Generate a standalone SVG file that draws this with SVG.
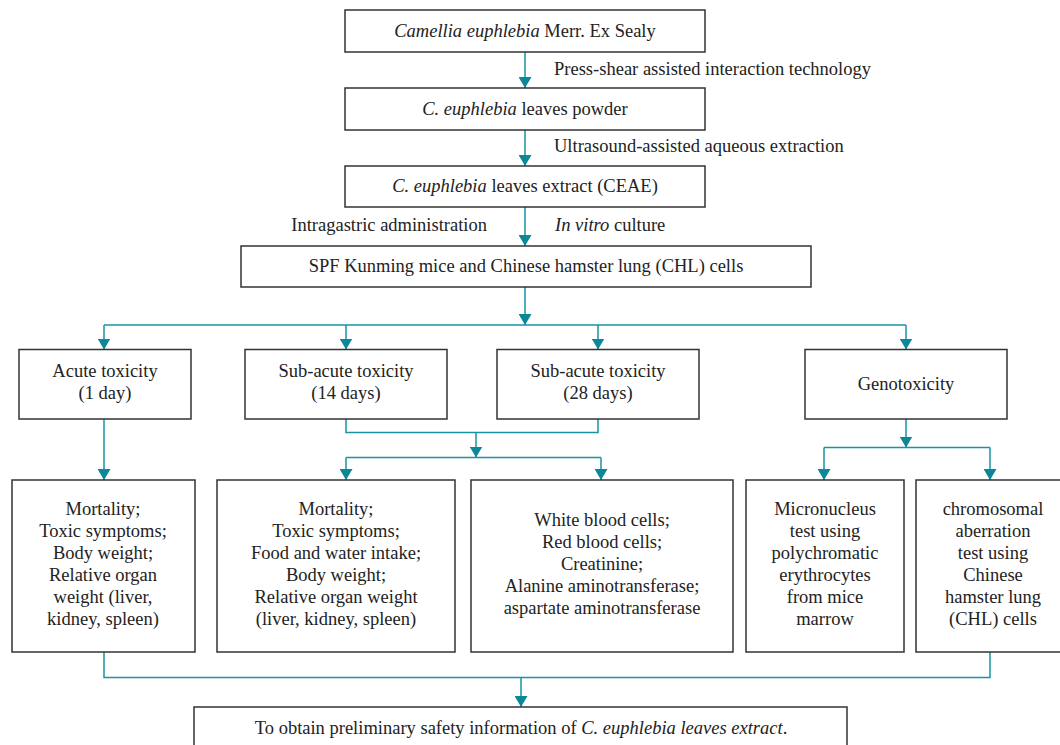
<svg xmlns="http://www.w3.org/2000/svg" width="1060" height="745" viewBox="0 0 1060 745">
<defs>
<marker id="ah" markerWidth="11" markerHeight="13" refX="11" refY="6.5" orient="auto" markerUnits="userSpaceOnUse">
<path d="M0,0 L11,6.5 L0,13 Z" fill="#0b8797"/>
</marker>
<style>
.box{fill:#fff;stroke:#333;stroke-width:1.5}
.c{fill:none;stroke:#1a93a5;stroke-width:1.5}
text{font-family:"Liberation Serif","Times New Roman",serif;font-size:18.5px;fill:#222}
.m{text-anchor:middle}
</style>
</defs>
<rect width="1060" height="745" fill="#fff"/>
<g id="connectors">
<path class="c" d="M525,52 V88" marker-end="url(#ah)"/>
<path class="c" d="M525,130 V166" marker-end="url(#ah)"/>
<path class="c" d="M525,207 V246" marker-end="url(#ah)"/>
<path class="c" d="M525,287 V325" marker-end="url(#ah)"/>
<path class="c" d="M104,325 H906"/>
<path class="c" d="M104,325 V349.5" marker-end="url(#ah)"/>
<path class="c" d="M346,325 V349.5" marker-end="url(#ah)"/>
<path class="c" d="M598,325 V349.5" marker-end="url(#ah)"/>
<path class="c" d="M906,325 V349.5" marker-end="url(#ah)"/>
<path class="c" d="M104,419 V480" marker-end="url(#ah)"/>
<path class="c" d="M346,419 V432.5 H598 V419"/>
<path class="c" d="M476,432.5 V457.5" marker-end="url(#ah)"/>
<path class="c" d="M346,457.5 H601"/>
<path class="c" d="M346,457.5 V480" marker-end="url(#ah)"/>
<path class="c" d="M601,457.5 V480" marker-end="url(#ah)"/>
<path class="c" d="M906,419 V447.5" marker-end="url(#ah)"/>
<path class="c" d="M824,447.5 H990"/>
<path class="c" d="M824,447.5 V480" marker-end="url(#ah)"/>
<path class="c" d="M990,447.5 V480" marker-end="url(#ah)"/>
<path class="c" d="M104,652 V677.5 H990 V652"/>
<path class="c" d="M521,677.5 V707" marker-end="url(#ah)"/>
</g>
<g id="labels">
<text x="554" y="75">Press-shear assisted interaction technology</text>
<text x="554" y="152">Ultrasound-assisted aqueous extraction</text>
<text x="487" y="231" text-anchor="end">Intragastric administration</text>
<text x="555" y="231"><tspan font-style="italic">In vitro</tspan> culture</text>
</g>
<g id="n1"><rect class="box" x="345" y="10" width="360" height="42"/>
<text class="m" x="525" y="37"><tspan font-style="italic">Camellia euphlebia</tspan> Merr. Ex Sealy</text></g>
<g id="n2"><rect class="box" x="345" y="88" width="360" height="42"/>
<text class="m" x="525" y="115"><tspan font-style="italic">C. euphlebia</tspan> leaves powder</text></g>
<g id="n3"><rect class="box" x="345" y="166" width="360" height="41"/>
<text class="m" x="525" y="192"><tspan font-style="italic">C. euphlebia</tspan> leaves extract (CEAE)</text></g>
<g id="n4"><rect class="box" x="241" y="246" width="570" height="41"/>
<text class="m" x="526" y="272">SPF Kunming mice and Chinese hamster lung (CHL) cells</text></g>
<g id="n5"><rect class="box" x="19" y="349.5" width="172" height="69.5"/>
<text class="m" x="105" y="377">Acute toxicity</text><text class="m" x="105" y="399">(1 day)</text></g>
<g id="n6"><rect class="box" x="245" y="349.5" width="202" height="69.5"/>
<text class="m" x="346" y="377">Sub-acute toxicity</text><text class="m" x="346" y="399">(14 days)</text></g>
<g id="n7"><rect class="box" x="497" y="349.5" width="202" height="69.5"/>
<text class="m" x="598" y="377">Sub-acute toxicity</text><text class="m" x="598" y="399">(28 days)</text></g>
<g id="n8"><rect class="box" x="805" y="349.5" width="202" height="69.5"/>
<text class="m" x="906" y="390">Genotoxicity</text></g>
<g id="n9"><rect class="box" x="12" y="480" width="183" height="172"/>
<text class="m" x="103" y="515">Mortality;</text><text class="m" x="103" y="537">Toxic symptoms;</text><text class="m" x="103" y="559">Body weight;</text><text class="m" x="103" y="581">Relative organ</text><text class="m" x="103" y="603">weight (liver,</text><text class="m" x="103" y="625">kidney, spleen)</text></g>
<g id="n10"><rect class="box" x="217" y="480" width="238" height="172"/>
<text class="m" x="336" y="515">Mortality;</text><text class="m" x="336" y="537">Toxic symptoms;</text><text class="m" x="336" y="559">Food and water intake;</text><text class="m" x="336" y="581">Body weight;</text><text class="m" x="336" y="603">Relative organ weight</text><text class="m" x="336" y="625">(liver, kidney, spleen)</text></g>
<g id="n11"><rect class="box" x="471" y="480" width="262" height="172"/>
<text class="m" x="602" y="526">White blood cells;</text><text class="m" x="602" y="548">Red blood cells;</text><text class="m" x="602" y="570">Creatinine;</text><text class="m" x="602" y="592">Alanine aminotransferase;</text><text class="m" x="602" y="614">aspartate aminotransferase</text></g>
<g id="n12"><rect class="box" x="746" y="480" width="158" height="172"/>
<text class="m" x="825" y="515">Micronucleus</text><text class="m" x="825" y="537">test using</text><text class="m" x="825" y="559">polychromatic</text><text class="m" x="825" y="581">erythrocytes</text><text class="m" x="825" y="603">from mice</text><text class="m" x="825" y="625">marrow</text></g>
<g id="n13"><rect class="box" x="916" y="480" width="154" height="172"/>
<text class="m" x="993" y="515">chromosomal</text><text class="m" x="993" y="537">aberration</text><text class="m" x="993" y="559">test using</text><text class="m" x="993" y="581">Chinese</text><text class="m" x="993" y="603">hamster lung</text><text class="m" x="993" y="625">(CHL) cells</text></g>
<g id="n14"><rect class="box" x="194" y="707" width="653" height="50"/>
<text class="m" x="521" y="734">To obtain preliminary safety information of <tspan font-style="italic">C. euphlebia leaves extract</tspan>.</text></g>
</svg>
